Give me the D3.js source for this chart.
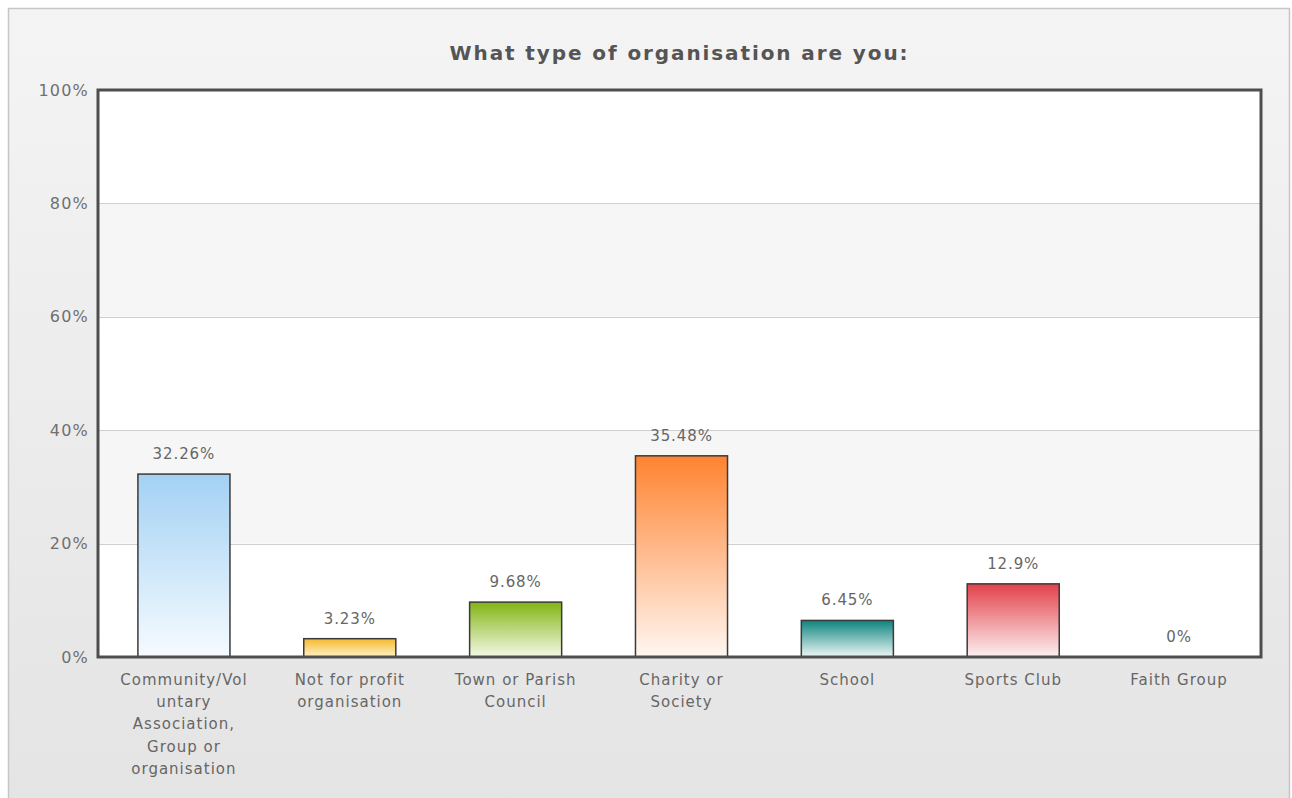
<!DOCTYPE html>
<html>
<head>
<meta charset="utf-8">
<script src="https://cdn.jsdelivr.net/npm/d3@7"></script>
<style>
  html, body { margin: 0; padding: 0; background: #ffffff; }
  svg { display: block; }
  text { font-family: "DejaVu Sans", Verdana, sans-serif; }
</style>
</head>
<body>
<script>
// Survey answers: share of respondents per organisation type
const categories = [
  ["Community/Vol", "untary", "Association,", "Group or", "organisation"],
  ["Not for profit", "organisation"],
  ["Town or Parish", "Council"],
  ["Charity or", "Society"],
  ["School"],
  ["Sports Club"],
  ["Faith Group"]
];
const values = [32.26, 3.23, 9.68, 35.48, 6.45, 12.9, 0];
const valueLabels = ["32.26%", "3.23%", "9.68%", "35.48%", "6.45%", "12.9%", "0%"];
const yTicks = [0, 20, 40, 60, 80, 100];
const yTickLabels = ["0%", "20%", "40%", "60%", "80%", "100%"];
const title = "What type of organisation are you:";

// Gradient stops (top colour, bottom colour) for each bar
const barColors = [
  ["#a3d1f4", "#f6fbff"],
  ["#f5b92f", "#fff2c8"],
  ["#82b514", "#f4f9e6"],
  ["#ff8330", "#fff7f2"],
  ["#0d837e", "#eef8f7"],
  ["#e2414a", "#fcf1f2"],
  ["#999999", "#eeeeee"]
];

const W = 1292, H = 798;
const plot = { left: 98, right: 1261, top: 90, bottom: 657 };

const svg = d3.select("body").append("svg").attr("width", W).attr("height", H);
const defs = svg.append("defs");

// Outer panel background
const bg = defs.append("linearGradient").attr("id", "bg")
  .attr("x1", 0).attr("y1", 0).attr("x2", 0).attr("y2", 1);
bg.append("stop").attr("offset", "0%").attr("stop-color", "#f4f4f4");
bg.append("stop").attr("offset", "100%").attr("stop-color", "#e4e4e4");

svg.append("rect")
  .attr("x", 8.5).attr("y", 8.5).attr("width", 1281).attr("height", 795)
  .attr("fill", "url(#bg)").attr("stroke", "#c6c6c6").attr("stroke-width", 1.5);

const x = d3.scaleBand()
  .domain(d3.range(values.length))
  .range([plot.left + 3, plot.right + 1])
  .paddingInner(0.445).paddingOuter(0.2225);

const y = d3.scaleLinear().domain([0, 100]).range([plot.bottom, plot.top]);

// Plot background with alternating bands
svg.append("rect")
  .attr("x", plot.left).attr("y", plot.top)
  .attr("width", plot.right - plot.left).attr("height", plot.bottom - plot.top)
  .attr("fill", "#ffffff");

const bands = d3.pairs(yTicks).filter((d, i) => i % 2 === 1);
svg.append("g").selectAll("rect").data(bands).join("rect")
  .attr("x", plot.left).attr("width", plot.right - plot.left)
  .attr("y", d => y(d[1])).attr("height", d => y(d[0]) - y(d[1]))
  .attr("fill", "#f6f6f6");

// Horizontal grid lines
svg.append("g").selectAll("line").data(yTicks.slice(1, -1)).join("line")
  .attr("x1", plot.left).attr("x2", plot.right)
  .attr("y1", d => Math.round(y(d)) + 0.5).attr("y2", d => Math.round(y(d)) + 0.5)
  .attr("stroke", "#cfcfcf").attr("stroke-width", 1);

// Y axis labels
const yAxis = d3.axisLeft(y).tickValues(yTicks)
  .tickFormat((d, i) => yTickLabels[i]).tickSize(0).tickPadding(9);
const yg = svg.append("g").attr("transform", `translate(${plot.left},0)`).call(yAxis);
yg.select(".domain").remove();
yg.selectAll("text")
  .attr("font-size", 16).attr("fill", "#707070")
  .attr("letter-spacing", 1.2)
  .attr("font-family", "DejaVu Sans, Verdana, sans-serif");

// Bar gradients
barColors.forEach((c, i) => {
  const g = defs.append("linearGradient").attr("id", "bar" + i)
    .attr("x1", 0).attr("y1", 0).attr("x2", 0).attr("y2", 1);
  g.append("stop").attr("offset", "0%").attr("stop-color", c[0]);
  g.append("stop").attr("offset", "100%").attr("stop-color", c[1]);
});

// Bars
svg.append("g").selectAll("rect").data(values.map((v, i) => ({ v, i })).filter(d => d.v > 0)).join("rect")
  .attr("x", d => x(d.i))
  .attr("y", d => y(d.v))
  .attr("width", x.bandwidth())
  .attr("height", d => y(0) - y(d.v))
  .attr("fill", d => `url(#bar${d.i})`)
  .attr("stroke", "#3a3a3a").attr("stroke-width", 1.5);

// Value labels above bars
svg.append("g").selectAll("text").data(values).join("text")
  .attr("x", (d, i) => x(i) + x.bandwidth() / 2)
  .attr("y", d => y(d) - 15)
  .attr("text-anchor", "middle")
  .attr("font-size", 15).attr("letter-spacing", 0.9)
  .attr("fill", "#666666")
  .text((d, i) => valueLabels[i]);

// Plot frame
svg.append("rect")
  .attr("x", plot.left).attr("y", plot.top)
  .attr("width", plot.right - plot.left).attr("height", plot.bottom - plot.top)
  .attr("fill", "none").attr("stroke", "#4e4e4e").attr("stroke-width", 3);

// Category labels (wrapped)
const xl = svg.append("g").selectAll("text").data(categories).join("text")
  .attr("text-anchor", "middle")
  .attr("font-size", 15).attr("letter-spacing", 1)
  .attr("fill", "#666666");
xl.each(function (lines, i) {
  const t = d3.select(this);
  lines.forEach((ln, j) => {
    t.append("tspan")
      .attr("x", x(i) + x.bandwidth() / 2)
      .attr("y", plot.bottom + 28 + j * 22.2)
      .text(ln);
  });
});

// Title
svg.append("text")
  .attr("x", (plot.left + plot.right) / 2)
  .attr("y", 60)
  .attr("text-anchor", "middle")
  .attr("font-size", 20).attr("font-weight", "bold")
  .attr("letter-spacing", 1.9)
  .attr("fill", "#555555")
  .text(title);
</script>
</body>
</html>
